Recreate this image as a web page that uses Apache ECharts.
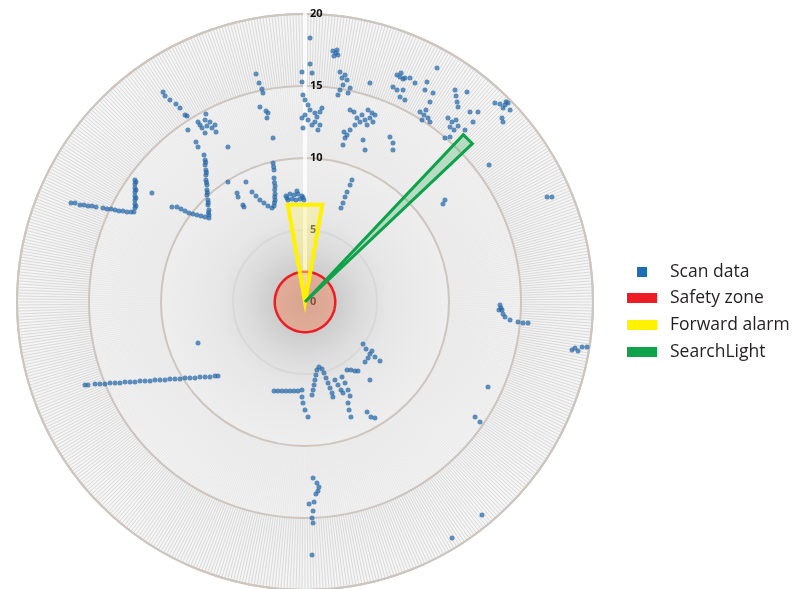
<!DOCTYPE html>
<html>
<head>
<meta charset="utf-8">
<script src="https://cdn.jsdelivr.net/npm/echarts@6/dist/echarts.min.js"></script>
<style>
html,body{margin:0;padding:0;background:#ffffff;}
#chart{width:793px;height:589px;}
</style>
</head>
<body>
<div id="chart"></div>
<script>
// ---------- data (metres, x to the right, y forward) ----------
const radiusTicks = [0, 5, 10, 15, 20];
const legendNames = ['Scan data', 'Safety zone', 'Forward alarm', 'SearchLight'];

const scanLeftWall = [
  [-16.25,6.88],[-15.97,6.88],[-15.63,6.74],[-15.35,6.74],[-15.07,6.67],[-14.79,6.67],[-14.51,6.60],
  [-14.03,6.53],[-13.75,6.46],[-13.47,6.46],[-13.19,6.39],[-12.92,6.32],[-12.64,6.32],[-12.36,6.25],
  [-12.08,6.25],[-11.88,6.25],
  [-11.81,8.47],[-11.81,8.19],[-11.81,7.92],[-11.81,7.64],[-11.81,7.36],[-11.81,7.08],[-11.81,6.81],[-11.81,6.53],
  [-11.74,8.33],[-11.74,7.78],[-11.74,7.22],[-11.74,6.67]
];
const scanLeftCorner = [
  [-7.01,10.21],[-6.94,9.86],[-6.94,9.51],[-6.88,9.17],[-6.88,8.82],[-6.88,8.47],[-6.81,8.13],[-6.81,7.78],
  [-6.81,7.43],[-6.74,7.08],[-6.74,6.74],[-6.67,6.39],[-6.67,6.04],[-6.67,5.83],
  [-6.90,9.70],[-6.85,9.00],[-6.84,8.30],[-6.78,7.60],[-6.72,6.90],[-6.70,6.20],
  [-8.89,6.60],[-8.61,6.46],[-8.33,6.32],[-8.06,6.18],[-7.78,6.11],[-7.50,6.04],[-7.22,5.97],[-6.94,5.90],
  [-9.24,6.60],[-10.63,7.57],[-7.57,11.11],[-7.43,10.76]
];
const scanUpperLeft = [
  [-7.43,12.5],[-7.15,12.08],[-6.94,12.64],[-6.81,12.22],[-6.60,12.5],[-6.46,12.08],[-6.25,12.29],
  [-6.18,11.81],[-6.94,11.74],[-7.29,12.29],[-6.88,13.06],
  [-9.86,14.58],[-9.72,14.31],[-9.38,14.03],[-8.96,13.75],[-8.68,13.47],[-8.33,12.99],[-8.19,12.92],
  [-8.13,11.94],[-5.35,10.76],
  [-3.40,15.83],[-3.19,15.21],[-2.99,14.79],[-2.92,14.51],[-3.13,13.54],[-2.71,13.26],[-2.57,13.13],
  [-2.64,12.78],[-2.22,11.39],
  [-2.22,9.65],[-2.15,9.17],[-2.15,8.61],[-2.08,8.06],[-2.08,7.50],[-2.08,7.08],[-2.15,6.67],
  [-2.18,9.40],[-2.12,8.30],[-2.10,7.80],[-2.10,7.30],[-2.12,6.90],
  [-3.68,7.64],[-3.40,7.36],[-3.13,7.08],[-2.85,6.88],[-2.57,6.67],[-2.29,6.53],
  [-4.72,7.57],[-4.65,7.29],[-4.31,6.74],[-4.24,6.60],[-5.35,8.33],[-4.10,8.33]
];
const scanFront = [
  [-1.32,7.36],[-1.04,7.50],[-0.76,7.43],[-0.49,7.50],[-0.21,7.36],[-1.18,7.08],[-0.90,7.15],
  [-0.63,7.08],[-0.35,7.15],[-0.07,7.08],[-0.56,7.71],[-1.25,7.22],[-0.14,7.25],
  [2.71,11.81],[2.78,11.39],[2.64,10.90],[4.03,11.25],[4.17,10.56],[5.90,11.46],[6.11,11.04],
  [3.26,8.47],[3.13,8.13],[2.92,7.64],[2.78,7.29],[2.64,6.88],[2.50,6.53]
];
const scanUpperRight = [
  [0.35,18.33],[0.35,16.53],[-0.21,15.97],[0.49,15.90],[-0.21,15.28],
  [1.94,17.43],[2.15,17.29],[2.29,17.15],[2.01,17.08],[2.22,17.50],
  [-0.14,14.38],[0.00,14.03],[0.21,13.68],[0.35,13.33],[0.69,13.13],[1.04,13.19],[1.18,13.47],
  [0.00,12.99],[-0.21,12.78],[0.21,12.64],[0.69,12.50],[1.04,12.29],[-0.14,12.08],[0.90,11.94],
  [0.49,12.29],[0.83,12.85],
  [2.43,15.97],[2.78,15.76],[2.92,15.42],[2.64,15.07],[3.13,14.86],[2.43,14.72],[2.99,14.51],
  [2.29,14.38],[2.57,15.56],[4.51,15.21],
  [3.13,13.33],[3.40,13.19],[3.61,12.78],[3.82,12.50],[3.47,12.29],[3.13,11.94],[2.92,11.60],
  [3.96,12.99],[4.17,12.64],
  [4.38,13.33],[4.65,13.13],[4.51,12.78],[4.86,12.99],[4.31,12.29],[4.72,12.50],
  [6.39,14.72],[6.11,10.56],
  [6.39,15.76],[6.60,15.63],[6.81,15.49],[6.67,15.90],[6.94,15.56],
  [6.60,14.24],[6.94,14.03],[7.29,15.56],[7.64,15.21],[6.11,14.93],[6.81,14.72],
  [8.47,15.28],[8.33,14.72],[8.89,14.51],[8.68,13.89],
  [7.99,13.19],[8.26,12.99],[8.54,12.78],[8.13,12.64],[8.68,12.50],[8.40,13.33],
  [9.17,16.25],
  [10.42,14.72],[10.49,14.31],[10.56,13.89],[10.63,13.54],[11.25,14.58],
  [9.93,12.78],[10.21,12.50],[10.49,12.64],[10.07,12.15],[10.63,12.22],[10.35,11.94],
  [11.46,13.19],[12.01,13.19],[11.67,12.50],[11.11,11.94],[9.72,11.39],[10.07,11.46],
  [13.19,13.82],[13.54,13.75],[13.89,13.68],[14.10,13.82],[13.75,13.47],[14.24,13.33],[13.96,13.90],
  [13.68,12.78],[13.75,12.50],[12.78,9.51]
];
const scanRight = [
  [9.72,7.08],[9.58,6.81],[16.81,7.29],[17.15,7.29],
  [13.54,-0.21],[13.68,-0.56],[13.75,-0.83],[13.89,-1.04],[13.61,-0.42],[13.47,-0.56],
  [14.24,-1.25],[14.79,-1.39],[15.14,-1.46],[15.49,-1.46],
  [18.54,-3.33],[18.75,-3.19],[18.96,-3.40],[19.24,-3.13],[19.58,-3.13],
  [12.71,-5.90],[11.81,-7.99],[12.15,-8.33],[12.29,-14.79],[10.21,-16.39]
];
const scanRear = [
  [-2.15,-6.18],[-1.88,-6.18],[-1.60,-6.18],[-1.32,-6.18],[-1.04,-6.18],[-0.76,-6.18],[-0.49,-6.18],[-0.21,-6.11],
  [-0.21,-6.60],[-0.14,-7.01],[0.00,-7.50],[0.21,-7.99],
  [0.49,-6.46],[0.56,-6.11],[0.63,-5.76],[0.69,-5.42],[0.76,-5.07],[0.83,-4.72],[0.97,-4.51],[1.18,-4.65],
  [1.32,-4.93],[1.46,-5.28],[1.60,-5.63],[1.74,-5.97],[1.88,-6.32],[1.94,-6.60],
  [2.08,-5.42],[2.29,-5.76],[2.50,-6.11],[2.64,-6.32],
  [2.92,-4.72],[3.19,-4.72],[3.47,-4.79],[3.68,-4.79],
  [2.57,-5.21],[2.78,-5.63],[2.99,-6.11],[3.13,-6.53],
  [2.99,-7.01],[3.06,-7.50],[3.19,-7.99],
  [4.03,-2.92],[4.24,-3.26],[4.51,-3.61],[4.86,-3.82],[5.21,-4.10],[4.38,-3.89],[4.17,-4.17],[4.65,-3.40],
  [4.51,-5.42],[4.31,-7.64],[4.58,-7.99],[4.86,-8.06],
  [0.56,-12.22],[0.83,-12.57],[0.97,-12.85],[0.90,-13.13],[0.76,-13.33],[0.63,-13.89],[0.28,-14.03],
  [0.56,-14.51],[0.49,-15.00],[0.56,-15.35],[0.49,-17.57]
];
const scanRearLeft = [
  [-15.28,-5.76],[-15.07,-5.76],[-14.58,-5.69],[-14.24,-5.69],[-13.89,-5.69],[-13.54,-5.63],[-13.19,-5.63],
  [-12.85,-5.63],[-12.50,-5.56],[-12.15,-5.56],[-11.81,-5.56],[-11.46,-5.49],[-11.11,-5.49],[-10.76,-5.49],
  [-10.42,-5.42],[-10.07,-5.42],[-9.72,-5.42],[-9.38,-5.35],[-9.03,-5.35],[-8.68,-5.35],[-8.33,-5.28],
  [-7.99,-5.28],[-7.64,-5.28],[-7.29,-5.21],[-6.94,-5.21],[-6.60,-5.21],[-6.25,-5.14],[-6.04,-5.14],
  [-7.43,-2.85]
];

// zones
const safetyRadius = 2.1;                          // m
const forwardAlarm = [[0, 0], [-1.2, 6.75], [1.2, 6.75]];  // m (x, y)
const searchRange = 16.0;                          // m
const searchBearing = 45;                          // deg, clockwise from forward
const searchHalfWidth = 1.6;                       // deg

// ---------- helpers ----------
function toPolar(p) {
  const r = Math.hypot(p[0], p[1]);
  const a = (Math.atan2(p[0], p[1]) * 180 / Math.PI + 360) % 360;
  return [r, a];
}
const scanData = [].concat(scanLeftWall, scanLeftCorner, scanUpperLeft, scanFront,
  scanUpperRight, scanRight, scanRear, scanRearLeft).map(toPolar);

const CENTER = [305, 302];
const R_OUT = 288;
const FONT = "'Open Sans', 'Noto Sans', sans-serif";

const chart = echarts.init(document.getElementById('chart'), null, {renderer: 'canvas'});

const ringAngle = (idx, color) => ({
  polarIndex: idx, type: 'value', min: 0, max: 360, interval: 0.6, startAngle: 90, z: 1,
  axisLine: {show: false}, axisTick: {show: false}, axisLabel: {show: false},
  splitLine: {show: true, lineStyle: {color: color, width: 1}}
});
const ringRadius = (idx) => ({
  polarIndex: idx, type: 'value', min: 0, max: 1,
  axisLine: {show: false}, axisTick: {show: false}, axisLabel: {show: false}, splitLine: {show: false}
});

chart.setOption({
  animation: false,
  backgroundColor: '#ffffff',
  polar: [
    {center: CENTER, radius: [0, R_OUT]},
    {center: CENTER, radius: [R_OUT * 0.5, R_OUT * 0.75]},
    {center: CENTER, radius: [R_OUT * 0.75, R_OUT]}
  ],
  angleAxis: [
    {
      polarIndex: 0, type: 'value', min: 0, max: 360, startAngle: 90, clockwise: true, z: 2,
      axisLine: {show: true, lineStyle: {color: '#cdc5be', width: 2}},
      axisTick: {show: false}, axisLabel: {show: false}, splitLine: {show: false}
    },
    ringAngle(1, '#e9e9e9'),
    ringAngle(2, '#dadada')
  ],
  radiusAxis: [
    {
      polarIndex: 0, type: 'value', min: radiusTicks[0], max: radiusTicks[radiusTicks.length - 1],
      interval: radiusTicks[1] - radiusTicks[0], z: 3,
      axisLine: {show: true, lineStyle: {color: 'rgba(255,255,255,0.8)', width: 4}},
      axisTick: {show: false},
      axisLabel: {show: true, color: '#111', fontSize: 11, fontWeight: 'bold', fontFamily: FONT,
        margin: -5, align: 'left', verticalAlign: 'middle'},
      splitLine: {show: true, lineStyle: {color: ['#cccccc', '#d8d8d8', '#cdc5be', '#cdc5be', '#cdc5be'], width: 2}}
    },
    ringRadius(1),
    ringRadius(2)
  ],
  legend: [
    {
      orient: 'vertical', left: 637, top: 262, padding: 0, itemWidth: 10, itemHeight: 10, icon: 'rect',
      data: [{name: legendNames[0], itemStyle: {color: '#1f6db5', opacity: 1}}],
      textStyle: {fontSize: 17.5, fontFamily: FONT, color: '#231f20', lineHeight: 20, padding: [0, 0, 0, 18]},
      selectedMode: false
    },
    {
      orient: 'vertical', left: 627, top: 288, padding: 0, itemWidth: 30, itemHeight: 10, icon: 'rect', itemGap: 7,
      data: legendNames.slice(1),
      textStyle: {fontSize: 17.5, fontFamily: FONT, color: '#231f20', lineHeight: 20, padding: [0, 0, 0, 8]},
      selectedMode: false
    }
  ],
  series: [
    {
      type: 'pie', silent: true, center: CENTER, radius: [0, R_OUT], z: 0,
      label: {show: false}, labelLine: {show: false}, emphasis: {disabled: true},
      data: [{value: 1, name: 'bg'}],
      itemStyle: {
        color: {
          type: 'radial', x: 0.5, y: 0.5, r: 0.5,
          colorStops: [
            {offset: 0, color: '#bcbcbc'}, {offset: 0.08, color: '#c8c8c8'}, {offset: 0.2, color: '#dcdcdc'},
            {offset: 0.3, color: '#e7e7e7'}, {offset: 0.5, color: '#eeeeee'}, {offset: 0.75, color: '#f2f2f2'},
            {offset: 1, color: '#f5f5f5'}
          ]
        }
      }
    },
    {
      type: 'custom', name: legendNames[1], coordinateSystem: 'polar', polarIndex: 0, z: 4, silent: true,
      itemStyle: {color: '#ee1c25'}, data: [[0, 0]],
      renderItem: function (params, api) {
        const pts = [];
        for (let a = 0; a < 360; a += 3) pts.push(api.coord([safetyRadius, a]));
        return {type: 'polygon', shape: {points: pts},
          style: {fill: 'rgba(245,140,100,0.5)', stroke: '#ee1c25', lineWidth: 2.5}};
      }
    },
    {
      type: 'custom', name: legendNames[2], coordinateSystem: 'polar', polarIndex: 0, z: 4, silent: true,
      itemStyle: {color: '#fff200'}, data: [[0, 0]],
      renderItem: function (params, api) {
        const pts = forwardAlarm.map(p => api.coord(toPolar(p)));
        return {type: 'polygon', shape: {points: pts},
          style: {fill: 'rgba(255,240,130,0.45)', stroke: '#fff200', lineWidth: 4, lineJoin: 'miter'}};
      }
    },
    {
      type: 'custom', name: legendNames[3], coordinateSystem: 'polar', polarIndex: 0, z: 4, silent: true,
      itemStyle: {color: '#0ea24b'}, data: [[0, 0]],
      renderItem: function (params, api) {
        const pts = [api.coord([0, 0]),
          api.coord([searchRange, searchBearing - searchHalfWidth]),
          api.coord([searchRange, searchBearing + searchHalfWidth])];
        return {type: 'polygon', shape: {points: pts},
          style: {fill: 'rgba(60,180,100,0.3)', stroke: '#0ea24b', lineWidth: 3, lineJoin: 'miter'}};
      }
    },
    {
      type: 'scatter', name: legendNames[0], coordinateSystem: 'polar', polarIndex: 0, z: 5, silent: true,
      symbol: 'circle', symbolSize: 5,
      itemStyle: {color: 'rgba(36,103,168,0.9)'},
      data: scanData
    }
  ]
});
</script>
</body>
</html>
